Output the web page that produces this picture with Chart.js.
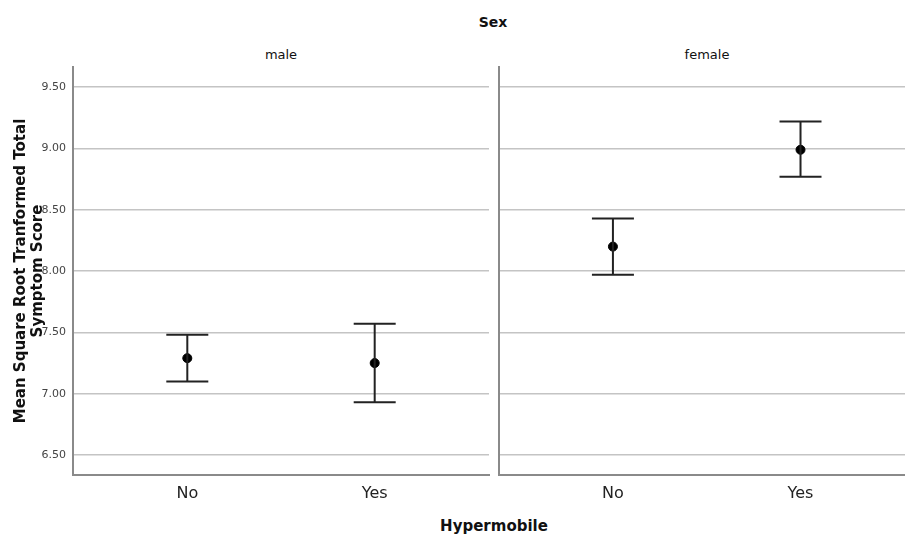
<!DOCTYPE html>
<html>
<head>
<meta charset="utf-8">
<script src="https://cdn.jsdelivr.net/npm/chart.js@4"></script>
<style>
  html, body { margin:0; padding:0; background:#fff; }
  body { width:905px; height:536px; position:relative; overflow:hidden; font-family:"DejaVu Sans", sans-serif; }
  .lbl { position:absolute; color:#111; white-space:nowrap; transform:translate(-50%,-50%); }
  #leftBox { position:absolute; left:0; top:0; width:495px; height:536px; }
  #rightBox { position:absolute; left:493px; top:0; width:418px; height:536px; }
</style>
</head>
<body>
<div class="lbl" style="left:493px;top:22px;font-size:14px;font-weight:bold;">Sex</div>
<div class="lbl" id="p0" style="left:281px;top:54px;font-size:13px;"></div>
<div class="lbl" id="p1" style="left:707px;top:54px;font-size:13px;"></div>
<div class="lbl" style="left:494px;top:526px;font-size:15px;font-weight:bold;">Hypermobile</div>
<div id="leftBox"><canvas id="left"></canvas></div>
<div id="rightBox"><canvas id="right"></canvas></div>
<script>
// data
var categories = ["No", "Yes"]
var panels = ["male", "female"]
var maleMean = [7.29, 7.25]
var maleLower = [7.10, 6.93]
var maleUpper = [7.48, 7.57]
var femaleMean = [8.20, 8.99]
var femaleLower = [7.97, 8.77]
var femaleUpper = [8.43, 9.22]
var yTicks = [6.5, 7.0, 7.5, 8.0, 8.5, 9.0, 9.5]
var yTitle = ["Mean Square Root Tranformed Total", "Symptom Score"]

document.getElementById("p0").textContent = panels[0]
document.getElementById("p1").textContent = panels[1]

// draws the error bars from the lower/upper arrays
var errorBars = {
  id: "errorBars",
  afterDatasetsDraw: function(chart) {
    var ctx = chart.ctx
    var xs = chart.scales.x, ys = chart.scales.y
    chart.data.datasets.forEach(function(ds) {
      ds.data.forEach(function(p, i) {
        var x = xs.getPixelForValue(p.x)
        var yl = ys.getPixelForValue(ds.lower[i])
        var yu = ys.getPixelForValue(ds.upper[i])
        ctx.save()
        ctx.strokeStyle = "#222"
        ctx.lineWidth = 2
        ctx.beginPath()
        ctx.moveTo(x, yl); ctx.lineTo(x, yu)
        ctx.moveTo(x - 21, yl); ctx.lineTo(x + 21, yl)
        ctx.moveTo(x - 21, yu); ctx.lineTo(x + 21, yu)
        ctx.stroke()
        ctx.restore()
      })
    })
  }
}

function makeChart(el, mean, lower, upper, isLeft) {
  var pts = categories.map(function(c, i) { return {x: i, y: mean[i]} })
  var config = {
    type: "scatter",
    data: {
      datasets: [{
        data: pts,
        lower: lower,
        upper: upper,
        backgroundColor: "#000",
        borderColor: "#000",
        pointRadius: 4.5,
        pointHoverRadius: 4.5
      }]
    },
    options: {
      responsive: true,
      maintainAspectRatio: false,
      animation: false,
      layout: { padding: { top: 67, right: 6, left: 0, bottom: 0 } },
      scales: {
        x: {
          type: "linear",
          min: -0.61,
          max: isLeft ? 1.61 : 1.557,
          afterBuildTicks: function(s) { s.ticks = categories.map(function(c, i) { return {value: i} }) },
          afterFit: function(s) { s.height = 61 },
          ticks: {
            callback: function(v) { return categories[v] },
            font: { family: "DejaVu Sans", size: 16 },
            color: "#222",
            padding: 9
          },
          grid: { display: false, drawTicks: false },
          border: { display: true, color: "#8a8a8a", width: 2 }
        },
        y: {
          min: 6.337,
          max: 9.665,
          afterBuildTicks: function(s) { s.ticks = yTicks.map(function(v) { return {value: v} }) },
          afterFit: function(s) { s.width = isLeft ? 73 : 0 },
          ticks: {
            display: isLeft,
            callback: function(v) { return v.toFixed(2) },
            font: { family: "DejaVu Sans", size: 11 },
            color: "#444",
            padding: 7
          },
          grid: { color: "#c4c4c4", lineWidth: 1.5, drawTicks: false },
          border: { display: true, color: "#8a8a8a", width: 2 },
          title: {
            display: isLeft,
            text: yTitle,
            font: { family: "DejaVu Sans", size: 15, weight: "bold", lineHeight: 1.1 },
            color: "#111",
            padding: { top: 13, bottom: 0 }
          }
        }
      },
      plugins: {
        legend: { display: false },
        tooltip: { enabled: false }
      }
    },
    plugins: [errorBars]
  }
  return new Chart(document.getElementById(el), config)
}

makeChart("left", maleMean, maleLower, maleUpper, true)
makeChart("right", femaleMean, femaleLower, femaleUpper, false)
</script>
</body>
</html>
